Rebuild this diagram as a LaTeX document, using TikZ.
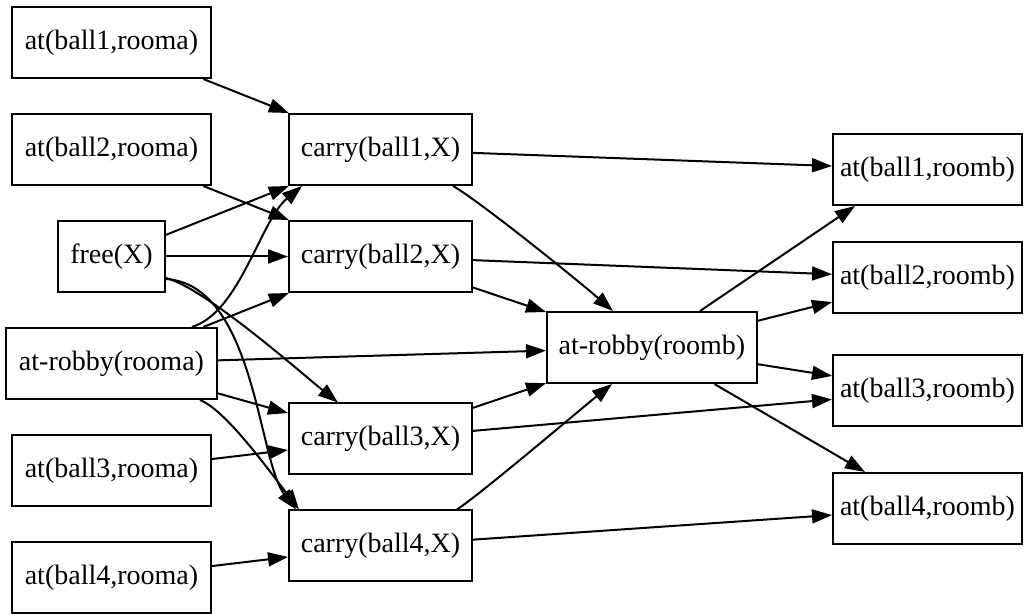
\documentclass[tikz,border=0pt]{standalone}
\usepackage{fontspec}
\setmainfont{Liberation Serif}
\usetikzlibrary{arrows.meta}
\begin{document}
\begin{tikzpicture}[x=0.5pt,y=-0.5pt,
  fact/.style={draw, line width=1pt, minimum height=35.5pt, inner sep=0pt,
    font=\fontsize{14pt}{16pt}\selectfont},
  edge/.style={line width=1pt, -{Triangle[length=10pt,width=7pt]}}]
\useasboundingbox (0,0) rectangle (1024,614);

% initial facts
\node[fact, minimum width=99.5pt]  (a1) at (111.5,42.5)  {at(ball1,rooma)};
\node[fact, minimum width=99.5pt]  (a2) at (111.5,149.5) {at(ball2,rooma)};
\node[fact, minimum width=53.5pt]  (fr) at (111.5,256.5) {free(X)};
\node[fact, minimum width=105.5pt] (ar) at (111.5,363.5) {at-robby(rooma)};
\node[fact, minimum width=99.5pt]  (a3) at (111.5,471)   {at(ball3,rooma)};
\node[fact, minimum width=99.5pt]  (a4) at (111.5,578)   {at(ball4,rooma)};

% carried balls
\node[fact, minimum width=91.5pt] (c1) at (380.5,149.5) {carry(ball1,X)};
\node[fact, minimum width=91.5pt] (c2) at (380.5,256.5) {carry(ball2,X)};
\node[fact, minimum width=91.5pt] (c3) at (380.5,439)   {carry(ball3,X)};
\node[fact, minimum width=91.5pt] (c4) at (380.5,546)   {carry(ball4,X)};

% robot moved
\node[fact, minimum width=105pt] (rb) at (652,347.5) {at-robby(roomb)};

% goal facts
\node[fact, minimum width=94.5pt] (b1) at (927.5,169.5) {at(ball1,roomb)};
\node[fact, minimum width=94.5pt] (b2) at (927.5,278)   {at(ball2,roomb)};
\node[fact, minimum width=94.5pt] (b3) at (927.5,391)   {at(ball3,roomb)};
\node[fact, minimum width=94.5pt] (b4) at (927.5,508.5) {at(ball4,roomb)};

% first layer
\draw[edge] (a1) -- (c1);
\draw[edge] (a2) -- (c2);
\draw[edge] (fr) -- (c1);
\draw[edge] (fr) -- (c2);
\draw[edge] ([yshift=-10.75pt]fr.east) .. controls (205,288) and (300,372) .. ([xshift=-21.25pt]c3.north);
\draw[edge] ([yshift=-11.25pt]fr.east) .. controls (255,285) and (258,460) .. ([xshift=-42.25pt]c4.north);
\draw[edge] ([xshift=40.25pt]ar.north) .. controls (240,312) and (260,221) .. ([xshift=-39.25pt]c1.south);
\draw[edge] (ar) -- (c2);
\draw[edge] (ar) -- (rb);
\draw[edge] (ar) -- (c3);
\draw[edge] ([xshift=44.25pt]ar.south) .. controls (225,410) and (265,465) .. ([xshift=-40.75pt]c4.north);
\draw[edge] (a3) -- (c3);
\draw[edge] (a4) -- (c4);

% second layer
\draw[edge] (c1) -- (b1);
\draw[edge] ([xshift=36.25pt]c1.south) .. controls (478,200) and (575,278) .. ([xshift=-19.5pt]rb.north);
\draw[edge] (c2) -- (b2);
\draw[edge] (c2) -- (rb);
\draw[edge] (c3) -- (rb);
\draw[edge] (c3) -- (b3);
\draw[edge] ([xshift=38.25pt]c4.north) .. controls (482,493) and (582,408) .. ([xshift=-20pt]rb.south);
\draw[edge] (c4) -- (b4);

% third layer
\draw[edge] ([xshift=24pt]rb.north) -- ([xshift=-36.25pt]b1.south);
\draw[edge] (rb) -- (b2);
\draw[edge] (rb) -- (b3);
\draw[edge] (rb) -- (b4);
\end{tikzpicture}
\end{document}
